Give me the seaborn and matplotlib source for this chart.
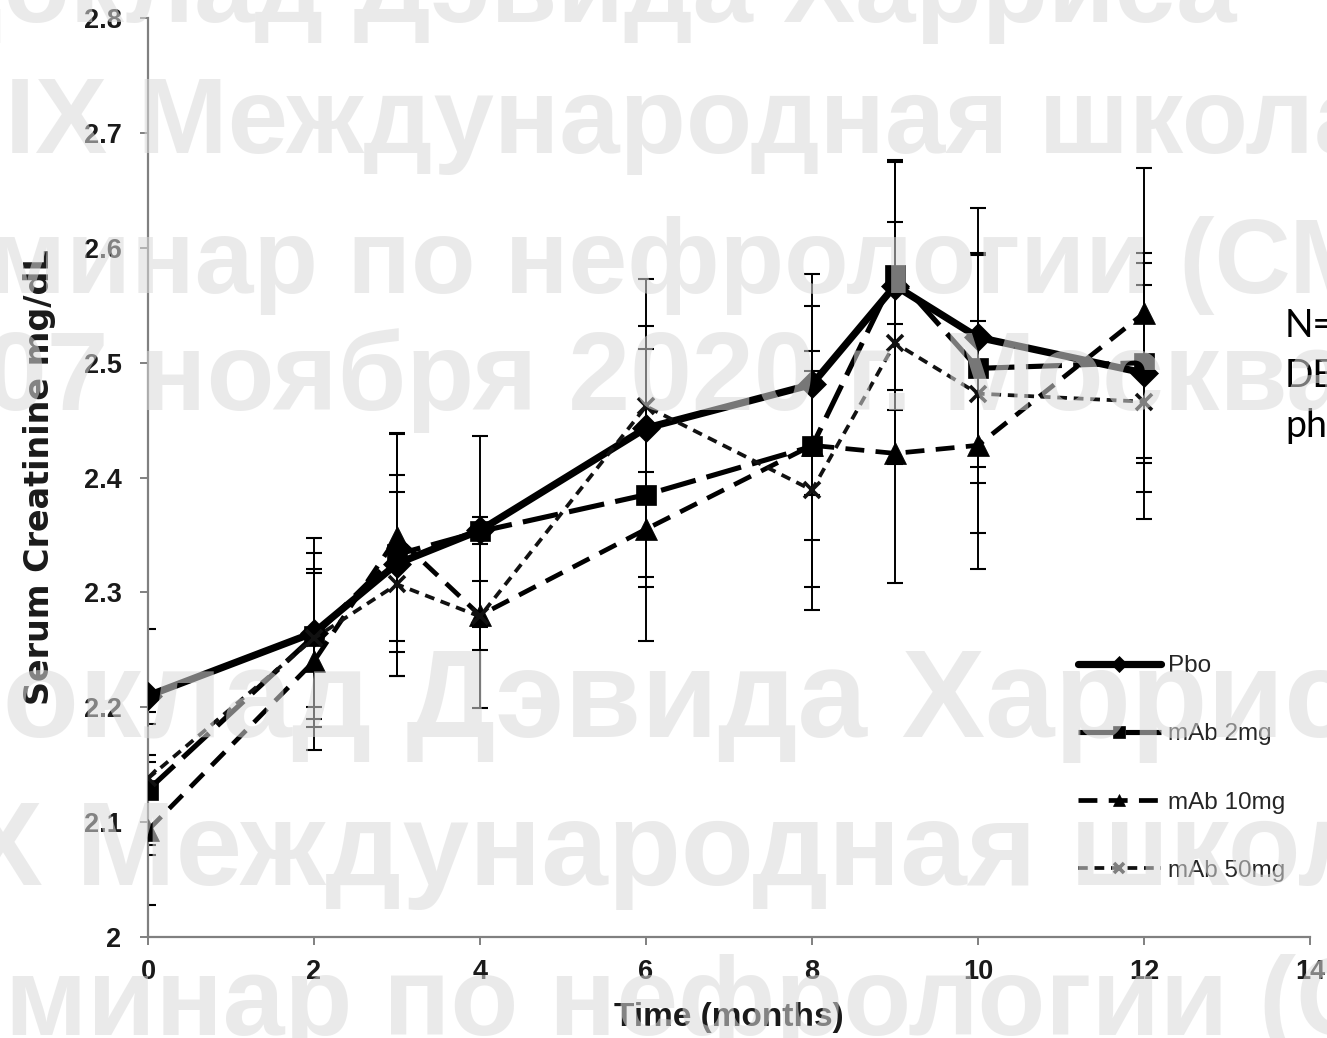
import numpy as np
import pandas as pd
import matplotlib
matplotlib.use("Agg")
import matplotlib.pyplot as plt
import seaborn as sns

# ---------------- data ----------------
months = [0, 2, 3, 4, 6, 8, 9, 10, 12]
pbo = [2.210, 2.265, 2.325, 2.354, 2.443, 2.481, 2.567, 2.522, 2.491]
mab2 = [2.128, 2.262, 2.333, 2.353, 2.385, 2.427, 2.576, 2.495, 2.500]
mab10 = [2.093, 2.240, 2.348, 2.280, 2.355, 2.428, 2.421, 2.428, 2.543]
mab50 = [2.138, 2.260, 2.307, 2.279, 2.462, 2.389, 2.517, 2.473, 2.466]
pbo_err = [0.058, 0.082, 0.077, 0.012, 0.130, 0.096, 0.108, 0.113, 0.104]
mab2_err = [0.057, 0.072, 0.106, 0.083, 0.127, 0.122, 0.100, 0.100, 0.087]
mab10_err = [0.065, 0.077, 0.090, 0.030, 0.050, 0.082, 0.113, 0.108, 0.126]
mab50_err = [0.058, 0.060, 0.080, 0.080, 0.070, 0.104, 0.105, 0.121, 0.102]
series_names = ["Pbo", "mAb 2mg", "mAb 10mg", "mAb 50mg"]
y_ticks = [2.0, 2.1, 2.2, 2.3, 2.4, 2.5, 2.6, 2.7, 2.8]
y_tick_labels = ["2", "2.1", "2.2", "2.3", "2.4", "2.5", "2.6", "2.7", "2.8"]
x_ticks = [0, 2, 4, 6, 8, 10, 12, 14]
x_label = "Time (months)"
y_label = "Serum Creatinine mg/dL"
side_text = ["N=", "DE", "ph"]
watermark_lines = [
    "Доклад Дэвида Харриса",
    "IX Международная школа",
    "минар по нефрологии (СМ",
    "07 ноября 2020 г. Москва",
]

# ---------------- style ----------------
sns.set_style("ticks")
plt.rcParams["font.family"] = ["Liberation Sans", "DejaVu Sans"]

W, H = 1327, 1038
fig = plt.figure(figsize=(W / 100, H / 100), dpi=100)
ax = fig.add_axes([148 / W, 1 - 937 / H, (1310 - 148) / W, (937 - 18) / H])

values = [pbo, mab2, mab10, mab50]
errors = [pbo_err, mab2_err, mab10_err, mab50_err]
styles = [
    dict(lw=5.2, linestyle="-", marker="D", markersize=14, color="black"),
    dict(lw=3.7, linestyle=(0, (7, 2.2)), marker="s", markersize=15, color="black"),
    dict(lw=3.4, linestyle=(0, (4, 2.4)), marker="^", markersize=16, color="black"),
    dict(lw=2.7, linestyle=(0, (2.6, 1.8)), marker="x", markersize=12, color="#111111"),
]

for name, vals, errs, st in zip(series_names, values, errors, styles):
    ax.errorbar(months, vals, yerr=errs, fmt="none", ecolor="black",
                elinewidth=1.4, capsize=5.5, capthick=1.5, zorder=1)
    df = pd.DataFrame({"month": months, "value": vals})
    mew = 2.6 if st["marker"] == "x" else 0.5
    sns.lineplot(data=df, x="month", y="value", ax=ax, label=name,
                 errorbar=None, color=st["color"], lw=st["lw"],
                 linestyle=st["linestyle"], marker=st["marker"],
                 markersize=st["markersize"], markeredgecolor=st["color"],
                 markerfacecolor=st["color"], markeredgewidth=mew, zorder=3)

ax.set_xlim(0, 14)
ax.set_ylim(2.0, 2.8)
ax.set_xticks(x_ticks)
ax.set_xticklabels([str(t) for t in x_ticks])
ax.set_yticks(y_ticks)
ax.set_yticklabels(y_tick_labels)
ax.tick_params(axis="both", which="major", length=6, width=1.4, color="#808080",
               labelsize=19.5, labelcolor="#1a1a1a")
ax.tick_params(axis="y", pad=13)
ax.tick_params(axis="x", pad=10)
for lab in ax.get_xticklabels() + ax.get_yticklabels():
    lab.set_fontweight("bold")
sns.despine(ax=ax)
for sp in ("left", "bottom"):
    ax.spines[sp].set_color("#808080")
    ax.spines[sp].set_linewidth(1.6)

ax.set_xlabel(x_label, fontsize=24, fontweight="bold", labelpad=12, color="#1a1a1a")
ax.set_ylabel(y_label, fontsize=24, fontweight="bold", labelpad=20, color="#1a1a1a",
              family=["DejaVu Sans"])

handles, labels = ax.get_legend_handles_labels()
leg = ax.legend(handles, labels, loc="upper left",
                bbox_to_anchor=(1066 / W, 1 - 643 / H), bbox_transform=fig.transFigure,
                frameon=False, fontsize=17.5, handlelength=3.4, handletextpad=0.3,
                labelspacing=1.9, borderpad=0, markerscale=0.55)

# right-hand slide text (cut off at the edge)
for i, t in enumerate(side_text):
    fig.text(1285 / W, 1 - (337 + 50 * i) / H, t, fontsize=27, family="Lato",
             color="black", va="baseline", ha="left")

# watermark overlay
wm = [
    (watermark_lines[0], -75, 22, 78),
    (watermark_lines[1], 5, 153, 78),
    (watermark_lines[2], -12, 293, 76),
    (watermark_lines[3], -15, 410, 80),
    (watermark_lines[0], -88, 737, 90),
    (watermark_lines[1], -70, 885, 86),
    (watermark_lines[2], 5, 1035, 80),
]
for txt, x, y, fs in wm:
    fig.text(x / W, 1 - y / H, txt, fontsize=fs, fontweight="bold",
             color="#dadada", alpha=0.55, va="baseline", ha="left", zorder=10)

fig.savefig("out.png", dpi=100)
